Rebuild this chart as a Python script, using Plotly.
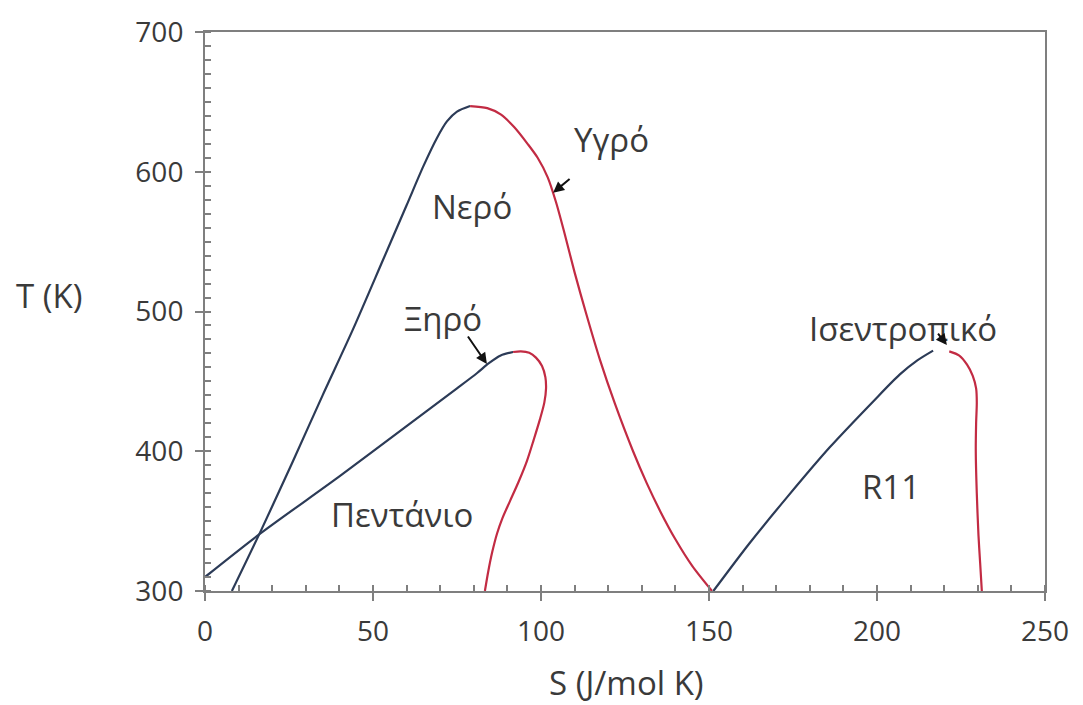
import plotly.graph_objects as go

# Water (Νερό)
water_liq_S = [8, 17, 26, 35, 44, 53, 60, 65, 69, 72, 75, 78.9]
water_liq_T = [300, 345, 392, 440, 487, 537, 576, 604, 624, 636, 643, 647]
water_vap_S = [78.9, 84, 88, 92, 96, 99, 102, 104.5, 107, 110, 113.5, 117.6, 122, 127.4, 131.5, 135.4, 140, 145, 150.9]
water_vap_T = [647, 645.5, 641, 632, 620, 610, 596, 578, 556, 528, 498, 465, 434, 400, 377, 357.5, 337, 318, 300]

# Pentane (Πεντάνιο)
pent_liq_S = [0, 16.4, 40, 60, 75, 81, 84.5, 88, 91.7]
pent_liq_T = [310, 341, 382, 418, 445, 456, 463, 468.5, 471]
pent_vap_S = [91.7, 94, 96.5, 98.5, 100.3, 101.3, 101.5, 101, 99.7, 97.8, 95.8, 93.3, 90.8, 88.5, 86.9, 85.5, 84.3, 83.3]
pent_vap_T = [471, 471.5, 470.5, 467, 461, 453, 445, 435, 423, 408, 393, 378, 364.5, 352, 341, 328, 314, 300]

# R11
r11_liq_S = [151.3, 162, 173.2, 186, 198.8, 206.8, 212, 216.7]
r11_liq_T = [300, 334, 367, 403, 435.5, 455, 465, 472]
r11_vap_S = [221.5, 224.5, 226.8, 228.5, 229.5, 229.7, 229.5, 229.4, 229.7, 230.2, 230.7, 231.2]
r11_vap_T = [471.5, 468.5, 462, 454, 445, 435, 420, 400, 370, 340, 320, 300]

BLUE = "#2c3b57"
RED = "#c22b43"
FONT = "Open Sans, sans-serif"
TXT = "#3a3a3a"

fig = go.Figure()
for S, T, c in [
    (water_liq_S, water_liq_T, BLUE), (water_vap_S, water_vap_T, RED),
    (pent_liq_S, pent_liq_T, BLUE), (pent_vap_S, pent_vap_T, RED),
    (r11_liq_S, r11_liq_T, BLUE), (r11_vap_S, r11_vap_T, RED),
]:
    fig.add_trace(go.Scatter(x=S, y=T, mode="lines",
                             line=dict(color=c, width=2.2, shape="spline", smoothing=0.8),
                             showlegend=False, hoverinfo="skip"))

labels = [
    ("Νερό", 79.5, 575), ("Υγρό", 121.1, 623), ("Ξηρό", 70.8, 495),
    ("Πεντάνιο", 58.6, 355), ("R11", 204.2, 375), ("Ισεντροπικό", 207.7, 488),
]
for t, x, y in labels:
    fig.add_annotation(x=x, y=y, text=t, showarrow=False, xanchor="center", yanchor="middle",
                       font=dict(family=FONT, size=33, color=TXT))

arrows = [(103.6, 585, 18, -15), (83.9, 462.4, -20, -29), (220.8, 476, -10, -13)]
for x, y, ax, ay in arrows:
    fig.add_annotation(x=x, y=y, ax=ax, ay=ay, text="", showarrow=True,
                       arrowhead=2, arrowsize=1.1, arrowwidth=2,
                       arrowcolor="#111111", standoff=0)

fig.add_annotation(xref="paper", yref="paper", x=-0.186, y=0.528, text="T (K)",
                   xanchor="center", yanchor="middle",
                   showarrow=False, font=dict(family=FONT, size=33, color=TXT))
fig.add_annotation(xref="paper", yref="paper", x=0.502, y=-0.163, text="S (J/mol K)",
                   xanchor="center", yanchor="middle",
                   showarrow=False, font=dict(family=FONT, size=33, color=TXT))

axis_common = dict(showgrid=False, zeroline=False, showline=True, linecolor="#7f7f7f",
                   linewidth=2, mirror=True, ticks="outside", ticklen=8, tickwidth=1.5,
                   tickcolor="#7f7f7f", tickfont=dict(family=FONT, size=28, color=TXT))
fig.update_xaxes(range=[0, 250], tickvals=[0, 50, 100, 150, 200, 250],
                 minor=dict(ticks="inside", dtick=10, ticklen=6, tickcolor="#7f7f7f", tickwidth=1.5),
                 ticklabelstandoff=6, **axis_common)
fig.update_yaxes(range=[300, 700], tickvals=[300, 400, 500, 600, 700],
                 minor=dict(ticks="inside", dtick=10, ticklen=6, tickcolor="#7f7f7f", tickwidth=1.5),
                 ticklabelstandoff=6, **axis_common)

fig.update_layout(width=1083, height=705, margin=dict(l=205, r=38, t=27, b=114),
                  plot_bgcolor="white", paper_bgcolor="white")
fig.write_html("out.html")
